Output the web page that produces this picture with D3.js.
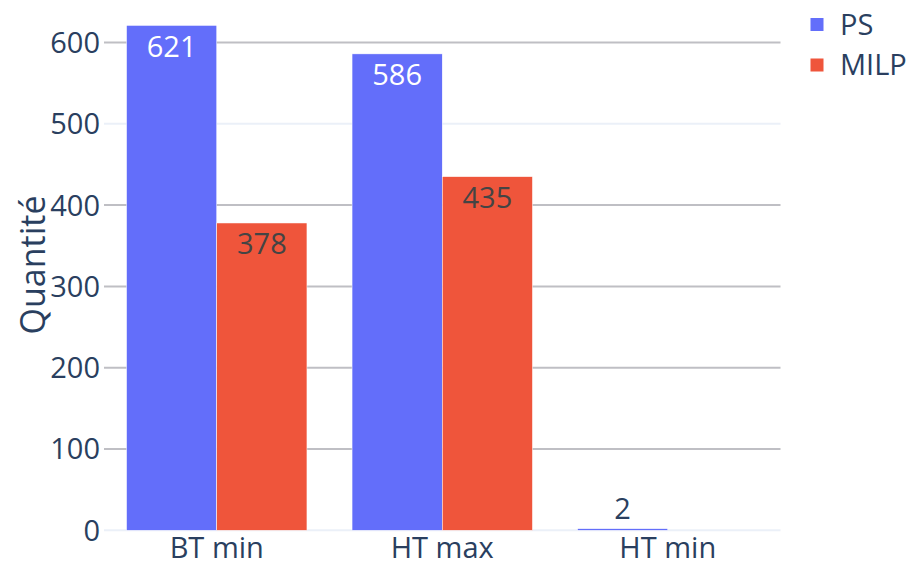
<!DOCTYPE html>
<html>
<head>
<meta charset="utf-8">
<script src="https://cdn.jsdelivr.net/npm/d3@7"></script>
<style>
  html, body { margin: 0; padding: 0; background: #fff; }
  svg { display: block; font-family: "Open Sans", sans-serif; }
</style>
</head>
<body>
<svg id="chart" width="909" height="565"></svg>
<script>
const categories = ["BT min", "HT max", "HT min"];
const seriesNames = ["PS", "MILP"];
const psValues = [621, 586, 2];
const milpValues = [378, 435, null];
const yTicks = [0, 100, 200, 300, 400, 500, 600];
const seriesColors = ["#636efa", "#EF553B"];
const insideTextColors = ["#ffffff", "#444444"];
const strongGrid = [100, 200, 300, 400, 600];

const svg = d3.select("#chart");
const plot = { left: 104, right: 780.5, top: 0, bottom: 530.3 };

const x = d3.scaleBand().domain(categories)
  .range([plot.left, plot.right]).paddingInner(0.2).paddingOuter(0.1);
const xs = d3.scaleBand().domain(seriesNames).range([0, x.bandwidth()]).padding(0);
const y = d3.scaleLinear().domain([0, 600]).range([plot.bottom, 42.5]);

// gridlines
svg.append("g").selectAll("line").data(yTicks).join("line")
  .attr("x1", plot.left).attr("x2", plot.right)
  .attr("y1", d => y(d)).attr("y2", d => y(d))
  .attr("stroke", d => strongGrid.includes(d) ? "#bfbfc4" : "#ebf0f8")
  .attr("stroke-width", 2);

// y tick labels
svg.append("g").selectAll("text").data(yTicks).join("text")
  .attr("x", 100).attr("y", d => y(d))
  .attr("dy", "0.36em")
  .attr("text-anchor", "end")
  .attr("font-size", 29).attr("fill", "#2a3f5f")
  .text(d => d);

// y axis title
svg.append("text")
  .attr("transform", `translate(45,265) rotate(-90)`)
  .attr("text-anchor", "middle")
  .attr("font-size", 34).attr("fill", "#2a3f5f")
  .text("Quantité");

// x tick labels
svg.append("g").selectAll("text").data(categories).join("text")
  .attr("x", d => x(d) + x.bandwidth() / 2).attr("y", 558)
  .attr("text-anchor", "middle")
  .attr("font-size", 29).attr("fill", "#2a3f5f")
  .text(d => d);

// bars
const data = [];
categories.forEach((c, i) => {
  data.push({ cat: c, s: "PS", si: 0, v: psValues[i] });
  data.push({ cat: c, s: "MILP", si: 1, v: milpValues[i] });
});
const valid = data.filter(d => d.v !== null && d.v !== undefined);

svg.append("g").selectAll("rect").data(valid).join("rect")
  .attr("x", d => x(d.cat) + xs(d.s))
  .attr("width", xs.bandwidth())
  .attr("y", d => y(d.v))
  .attr("height", d => y(0) - y(d.v))
  .attr("fill", d => seriesColors[d.si])
  .attr("stroke", "#ffffff").attr("stroke-width", 0.5);

// value labels
svg.append("g").selectAll("text").data(valid).join("text")
  .attr("x", d => x(d.cat) + xs(d.s) + xs.bandwidth() / 2)
  .attr("y", d => {
    const h = y(0) - y(d.v);
    return h > 40 ? y(d.v) + 31.5 : y(d.v) - 9.5;
  })
  .attr("text-anchor", "middle")
  .attr("font-size", 29)
  .attr("fill", d => (y(0) - y(d.v)) > 40 ? insideTextColors[d.si] : "#2a3f5f")
  .text(d => d.v);

// legend
const legend = svg.append("g");
seriesNames.forEach((s, i) => {
  const cy = 24.5 + i * 40.5;
  legend.append("rect")
    .attr("x", 810.5).attr("y", cy - 6.5).attr("width", 13).attr("height", 13)
    .attr("fill", seriesColors[i]);
  legend.append("text")
    .attr("x", 840).attr("y", cy).attr("dy", "0.36em")
    .attr("font-size", 29).attr("fill", "#2a3f5f")
    .text(s);
});
</script>
</body>
</html>
